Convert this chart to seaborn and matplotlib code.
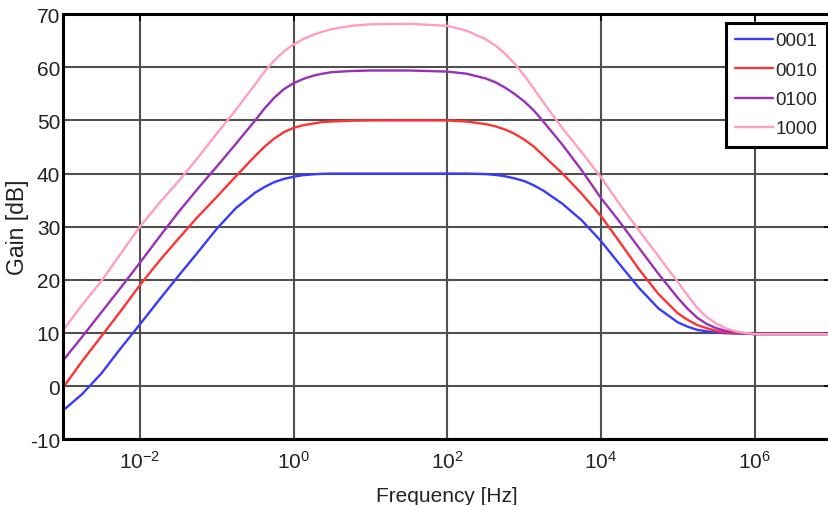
import numpy as np
import pandas as pd
import matplotlib
matplotlib.use('Agg')
import matplotlib.pyplot as plt
import seaborn as sns
from matplotlib.ticker import NullLocator

log_f = [-3, -2.75, -2.5, -2.25, -2, -1.75, -1.5, -1.25, -1, -0.75,
         -0.5, -0.375, -0.25, -0.125, 0, 0.125, 0.25, 0.375, 0.5, 0.75,
         1, 1.5, 2, 2.25, 2.5, 2.625, 2.75, 2.875, 3, 3.125,
         3.25, 3.5, 3.75, 4, 4.25, 4.5, 4.75, 5, 5.125, 5.25,
         5.375, 5.5, 5.625, 5.75, 5.875, 6, 6.5, 7]

gain_0001 = [-4.6, -1.5, 2.4, 7.1, 11.6, 16.2, 20.7, 25.1, 29.6, 33.5,
             36.4, 37.5, 38.4, 39.0, 39.4, 39.7, 39.85, 39.95, 40.0, 40.0,
             40.0, 40.0, 40.0, 40.0, 39.9, 39.75, 39.5, 39.1, 38.6, 37.8,
             36.8, 34.3, 31.2, 27.3, 22.8, 18.4, 14.6, 12.0, 11.2, 10.6,
             10.3, 10.1, 9.95, 9.9, 9.85, 9.8, 9.8, 9.8]
gain_0010 = [-0.3, 4.7, 9.4, 14.1, 19.0, 23.5, 27.7, 31.8, 35.6, 39.5,
             43.3, 45.1, 46.6, 47.8, 48.6, 49.1, 49.4, 49.7, 49.8, 49.95,
             50.0, 50.0, 50.0, 49.8, 49.3, 48.9, 48.3, 47.5, 46.4, 45.1,
             43.4, 40.0, 36.2, 32.0, 27.0, 21.9, 17.3, 13.7, 12.5, 11.5,
             10.9, 10.4, 10.1, 9.95, 9.85, 9.8, 9.8, 9.8]
gain_0100 = [4.8, 9.3, 13.9, 18.5, 23.2, 28.0, 32.7, 37.1, 41.3, 45.6,
             50.0, 52.3, 54.3, 55.9, 57.0, 57.8, 58.4, 58.8, 59.1, 59.3,
             59.4, 59.4, 59.2, 58.8, 57.9, 57.2, 56.2, 55.0, 53.6, 51.9,
             49.8, 45.4, 40.6, 35.4, 30.8, 25.9, 21.1, 16.6, 14.6, 12.9,
             11.7, 10.9, 10.4, 10.1, 9.9, 9.8, 9.8, 9.8]
gain_1000 = [10.5, 15.3, 19.8, 24.9, 30.0, 34.4, 38.5, 42.9, 47.5, 52.0,
             56.8, 59.2, 61.3, 63.0, 64.3, 65.3, 66.1, 66.7, 67.2, 67.8,
             68.1, 68.2, 67.8, 66.9, 65.3, 64.1, 62.6, 60.7, 58.5, 56.0,
             53.4, 48.5, 44.0, 39.3, 34.1, 29.2, 24.4, 19.6, 17.1, 14.8,
             13.0, 11.8, 10.9, 10.3, 10.0, 9.8, 9.8, 9.8]

codes = ['0001', '0010', '0100', '1000']
colors = ['#3a3aff', '#ff3333', '#9b30b8', '#ff9ec0']

xticks = [1e-2, 1e0, 1e2, 1e4, 1e6]
xtick_labels = ['10$^{-2}$', '10$^{0}$', '10$^{2}$', '10$^{4}$', '10$^{6}$']
yticks = [-10, 0, 10, 20, 30, 40, 50, 60, 70]

# long-form table for seaborn
freq = 10.0 ** np.array(log_f)
df = pd.concat([
    pd.DataFrame({'freq': freq, 'gain': g, 'code': c})
    for c, g in zip(codes, [gain_0001, gain_0010, gain_0100, gain_1000])
])

sns.set_style('white')
plt.rcParams['font.family'] = ['Liberation Sans Narrow', 'Liberation Sans', 'DejaVu Sans']
plt.rcParams['mathtext.fontset'] = 'custom'
plt.rcParams['mathtext.rm'] = 'Liberation Sans'
plt.rcParams['mathtext.it'] = 'Liberation Sans:italic'
plt.rcParams['axes.unicode_minus'] = False

fig = plt.figure(figsize=(8.29, 5.06), dpi=100)
ax = fig.add_axes([0.076, 0.130, 0.927, 0.840])

sns.lineplot(data=df, x='freq', y='gain', hue='code', hue_order=codes,
             palette=dict(zip(codes, colors)), linewidth=1.7, legend=False,
             sort=False, ax=ax)

ax.set_xscale('log')
ax.set_xlim(1e-3, 1e7)
ax.set_ylim(-10, 70)
ax.set_xticks(xticks)
ax.set_xticklabels(xtick_labels)
ax.xaxis.set_minor_locator(NullLocator())
ax.set_yticks(yticks)

ax.grid(True, color='#505050', linewidth=1.5)
ax.set_axisbelow(True)
for s in ax.spines.values():
    s.set_color('black')
    s.set_linewidth(2.2)

ax.tick_params(direction='in', length=5, width=1.2, top=True, right=True,
               labelsize=15, colors='black', labelcolor='#222222')
ax.tick_params(axis='y', pad=2)
ax.tick_params(axis='x', pad=8)

ax.set_xlabel('Frequency [Hz]', fontsize=15, labelpad=10, color='#222222')
ax.set_ylabel('Gain [dB]', fontsize=16.5, labelpad=1, color='#222222',
              family=['Liberation Sans', 'DejaVu Sans'])

leg = ax.legend(ax.lines[:4], codes, loc='upper right',
                bbox_to_anchor=(827 / 829, 1 - 24 / 506), bbox_transform=fig.transFigure,
                fancybox=False, framealpha=1, edgecolor='black', fontsize=13.5,
                handlelength=2.0, handletextpad=0.15, borderpad=0.5,
                labelspacing=0.65, borderaxespad=0)
leg.get_frame().set_linewidth(2.2)

fig.savefig('out.png', dpi=100)
